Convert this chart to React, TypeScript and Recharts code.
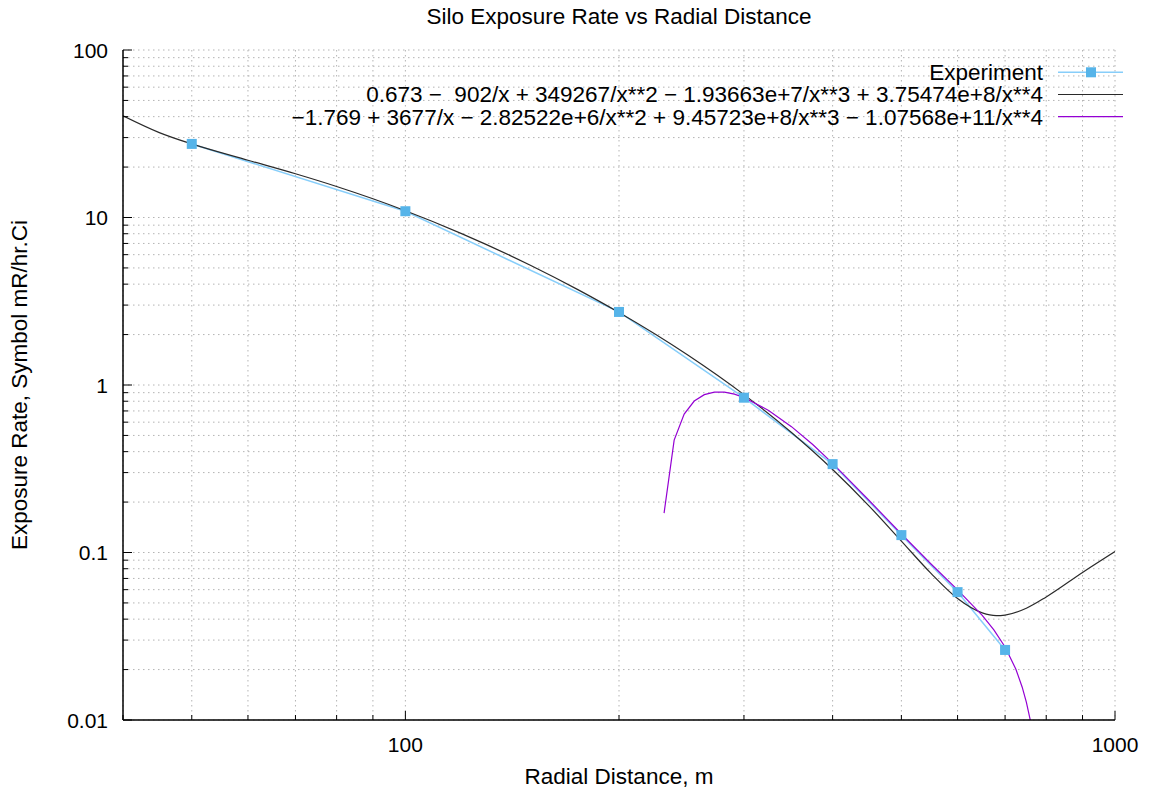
import { CartesianGrid, ComposedChart, Label, Legend, Line, XAxis, YAxis } from "recharts"

const FONT = '"Liberation Sans", Arial, Helvetica, sans-serif'

const chartTitle = "Silo Exposure Rate vs Radial Distance"
const xTitle = "Radial Distance, m"
const yTitle = "Exposure Rate, Symbol mR/hr.Ci"

const xTicks = [40, 50, 60, 70, 80, 90, 100, 200, 300, 400, 500, 600, 700, 800, 900, 1000]
const yTicks = [
    0.01, 0.02, 0.03, 0.04, 0.05, 0.06, 0.07, 0.08, 0.09,
    0.1, 0.2, 0.3, 0.4, 0.5, 0.6, 0.7, 0.8, 0.9,
    1, 2, 3, 4, 5, 6, 7, 8, 9,
    10, 20, 30, 40, 50, 60, 70, 80, 90,
    100,
]

// measured points
const expX = [50, 100, 200, 300, 400, 500, 600, 700]
const expY = [27.5, 10.9, 2.73, 0.84, 0.337, 0.127, 0.058, 0.0262]

// black fit curve
const fitAX = [40, 45, 50, 60, 70, 80, 90, 100, 120, 150, 175, 200, 250, 300, 350, 400, 450, 500, 550, 600, 650, 680, 700, 750, 800, 900, 1000]
const fitAY = [40.48, 32.14, 27.49, 21.97, 18.24, 15.31, 12.93, 10.97, 8.015, 5.187, 3.71, 2.709, 1.51, 0.876, 0.52, 0.313, 0.19, 0.117, 0.0753, 0.0531, 0.0436, 0.042, 0.0423, 0.0465, 0.0543, 0.076, 0.1013]

// purple fit curve (only the positive part shows on the log axis)
const fitBX = [231.5, 239.2, 247.1, 255.3, 263.8, 272.5, 281.6, 290.9, 300.5, 325, 350, 375, 400, 450, 500, 550, 600, 650, 675, 700, 725, 740, 750, 760]
const fitBY = [0.172, 0.469, 0.671, 0.802, 0.876, 0.907, 0.906, 0.882, 0.84, 0.705, 0.564, 0.441, 0.3405, 0.205, 0.129, 0.0857, 0.0598, 0.0421, 0.0345, 0.0273, 0.0201, 0.0157, 0.0128, 0.0099]

const legendLabels = [
    "Experiment",
    "0.673 \u2212  902/x + 349267/x**2 \u2212 1.93663e+7/x**3 + 3.75474e+8/x**4",
    "\u22121.769 + 3677/x \u2212 2.82522e+6/x**2 + 9.45723e+8/x**3 \u2212 1.07568e+11/x**4",
]

const expColor = "#56b4e9"
const expLine = "#87cefa"
const fitAColor = "#2a2a2a"
const fitBColor = "#9400d3"

const TEXT_SIZE = 22.5
const TICK_SIZE = 21

const toRows = (xs: number[], ys: number[]) => xs.map((x, i) => ({ x, y: ys[i] }))
const expData = toRows(expX, expY)
const fitAData = toRows(fitAX, fitAY)
const fitBData = toRows(fitBX, fitBY)

const isDecade = (v: number) => Math.abs(Math.log10(v) - Math.round(Math.log10(v))) < 1e-6

function makeTick(side: "bottom" | "top" | "left" | "right") {
    return (props: any) => {
        const { x, y, payload } = props
        const v = payload.value
        const major = isDecade(v)
        const len = major ? 9 : 5
        let x2 = x
        let y2 = y
        if (side === "bottom") y2 = y - len
        if (side === "top") y2 = y + len
        if (side === "left") x2 = x + len
        if (side === "right") x2 = x - len
        return (
            <g>
                <line x1={x} y1={y} x2={x2} y2={y2} stroke="#000" strokeWidth={1} />
                {side === "bottom" && major && (
                    <text x={x} y={y + 32} textAnchor="middle" fontSize={TICK_SIZE} fill="#000">
                        {v}
                    </text>
                )}
                {side === "left" && major && (
                    <text x={x - 15} y={y + 7.5} textAnchor="end" fontSize={TICK_SIZE} fill="#000">
                        {v}
                    </text>
                )}
            </g>
        )
    }
}

const square = (props: any) => (
    <rect key={`sq-${props.index}`} x={props.cx - 5} y={props.cy - 5} width={10} height={10} fill={expColor} />
)

const renderYTitle = (props: any) => {
    const vb = props.viewBox
    const cy = vb.y + vb.height / 2
    return (
        <text x={27} y={cy} transform={`rotate(-90, 27, ${cy})`} textAnchor="middle" fontSize={TEXT_SIZE} fill="#000">
            {yTitle}
        </text>
    )
}

const renderLegend = () => (
    <svg width={1150} height={70} style={{ display: "block", overflow: "visible" }}>
        {legendLabels.map((label, i) => {
            const cy = 11.3 + i * 22.2
            const color = i === 0 ? expLine : i === 1 ? fitAColor : fitBColor
            return (
                <g key={label}>
                    <text x={1043} y={cy + 7.8} textAnchor="end" fontSize={TEXT_SIZE} fill="#000" style={{ whiteSpace: "pre" }}>
                        {label}
                    </text>
                    <line x1={1058} y1={cy} x2={1123} y2={cy} stroke={color} strokeWidth={i === 0 ? 1.5 : 1.2} />
                    {i === 0 && <rect x={1086} y={cy - 5} width={10} height={10} fill={expColor} />}
                </g>
            )
        })}
    </svg>
)

const axisLine = { stroke: "#000", strokeWidth: 1.5 }

export default function App() {
    return (
        <div style={{ position: "absolute", left: 0, top: 0, width: 1150, height: 792, background: "#fff", fontFamily: FONT }}>
            <div style={{ position: "absolute", left: 123, top: 6, width: 992, textAlign: "center", fontSize: TEXT_SIZE, lineHeight: "22px", color: "#000" }}>
                {chartTitle}
            </div>
            <ComposedChart width={1150} height={792} margin={{ top: 50, right: 35, bottom: 0, left: 0 }}>
                <CartesianGrid stroke="#b4b4b4" strokeDasharray="1.5 3.5" />
                <XAxis
                    dataKey="x"
                    type="number"
                    scale="log"
                    domain={[40, 1000]}
                    allowDataOverflow
                    ticks={xTicks}
                    interval={0}
                    height={72}
                    tickSize={0}
                    tickMargin={0}
                    tickLine={false}
                    axisLine={axisLine}
                    tick={makeTick("bottom")}
                >
                    <Label value={xTitle} position="insideBottom" offset={8} fontSize={TEXT_SIZE} fill="#000" />
                </XAxis>
                <XAxis
                    xAxisId="top"
                    orientation="top"
                    type="number"
                    scale="log"
                    domain={[40, 1000]}
                    allowDataOverflow
                    ticks={xTicks}
                    interval={0}
                    height={0}
                    tickSize={0}
                    tickMargin={0}
                    tickLine={false}
                    axisLine={axisLine}
                    tick={makeTick("top")}
                />
                <YAxis
                    type="number"
                    scale="log"
                    domain={[0.01, 100]}
                    allowDataOverflow
                    ticks={yTicks}
                    interval={0}
                    width={123}
                    tickSize={0}
                    tickMargin={0}
                    tickLine={false}
                    axisLine={axisLine}
                    tick={makeTick("left")}
                >
                    <Label content={renderYTitle} />
                </YAxis>
                <YAxis
                    yAxisId="right"
                    orientation="right"
                    type="number"
                    scale="log"
                    domain={[0.01, 100]}
                    allowDataOverflow
                    ticks={yTicks}
                    interval={0}
                    width={0}
                    tickSize={0}
                    tickMargin={0}
                    tickLine={false}
                    axisLine={axisLine}
                    tick={makeTick("right")}
                />
                <Legend
                    layout="vertical"
                    align="center"
                    verticalAlign="middle"
                    wrapperStyle={{ top: 61, left: 0, width: 1150, height: 70 }}
                    content={renderLegend}
                />
                <Line
                    data={expData}
                    dataKey="y"
                    name="Experiment"
                    type="linear"
                    stroke={expLine}
                    strokeWidth={1.5}
                    dot={square}
                    activeDot={false}
                    isAnimationActive={false}
                />
                <Line
                    data={fitAData}
                    dataKey="y"
                    name="fitA"
                    type="monotone"
                    stroke={fitAColor}
                    strokeWidth={1.2}
                    dot={false}
                    activeDot={false}
                    isAnimationActive={false}
                />
                <Line
                    data={fitBData}
                    dataKey="y"
                    name="fitB"
                    type="linear"
                    stroke={fitBColor}
                    strokeWidth={1.2}
                    dot={false}
                    activeDot={false}
                    isAnimationActive={false}
                />
            </ComposedChart>
        </div>
    )
}
